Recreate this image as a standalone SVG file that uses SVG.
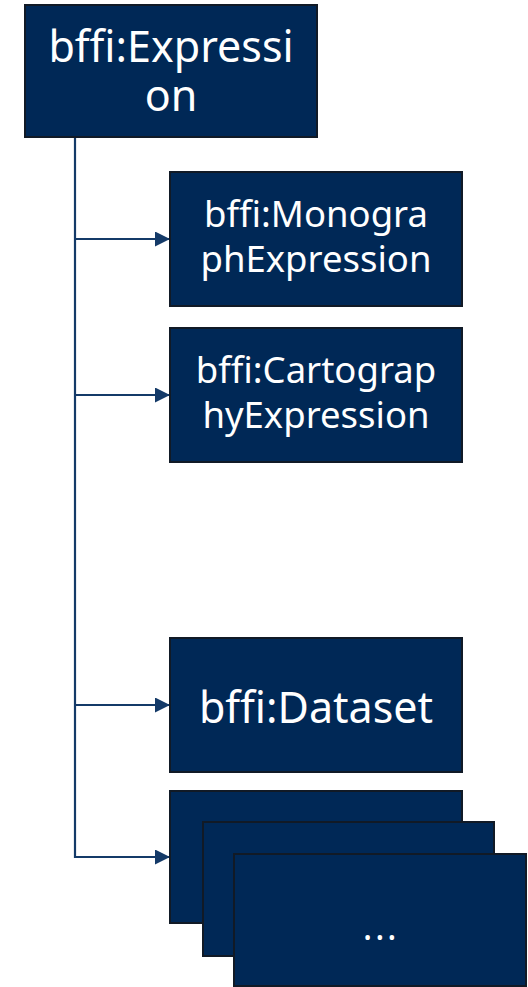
<svg xmlns="http://www.w3.org/2000/svg" width="528" height="987" viewBox="0 0 528 987">
<style>
.box{fill:#002856;stroke:#111a26;stroke-width:2}
.t{fill:#ffffff;font-family:"Noto Sans","Open Sans",sans-serif;text-anchor:middle}
.c{fill:none;stroke:#143a68;stroke-width:2.2}
</style>
<defs>
<marker id="ah" markerWidth="15" markerHeight="15" refX="15" refY="7.5" orient="auto" markerUnits="userSpaceOnUse" viewBox="0 0 15 15">
<path d="M0,0 L15,7.5 L0,15 Z" fill="#143a68"/>
</marker>
</defs>
<g id="connectors">
<path class="c" d="M75,137 V857 H170" marker-end="url(#ah)"/>
<path class="c" d="M75,239 H170" marker-end="url(#ah)"/>
<path class="c" d="M75,395 H170" marker-end="url(#ah)"/>
<path class="c" d="M75,705 H170" marker-end="url(#ah)"/>
</g>
<g id="expression">
<rect class="box" x="25" y="5" width="292" height="132"/>
<text class="t" x="171" y="62" font-size="43">bffi:Expressi</text>
<text class="t" x="171" y="111" font-size="43">on</text>
</g>
<g id="monograph">
<rect class="box" x="170" y="172" width="292" height="134"/>
<text class="t" x="316" y="227" font-size="36.5">bffi:Monogra</text>
<text class="t" x="316" y="272" font-size="36.5">phExpression</text>
</g>
<g id="cartography">
<rect class="box" x="170" y="328" width="292" height="134"/>
<text class="t" x="316" y="383" font-size="36.5">bffi:Cartograp</text>
<text class="t" x="316" y="428" font-size="36.5">hyExpression</text>
</g>
<g id="dataset">
<rect class="box" x="170" y="638" width="292" height="134"/>
<text class="t" x="316" y="723" font-size="43">bffi:Dataset</text>
</g>
<g id="more">
<rect class="box" x="170" y="791" width="292" height="132"/>
<rect class="box" x="203" y="822" width="291" height="134"/>
<rect class="box" x="234" y="854" width="292" height="132"/>
<text class="t" x="381" y="939.5" font-size="36" letter-spacing="2.5">...</text>
</g>
</svg>
